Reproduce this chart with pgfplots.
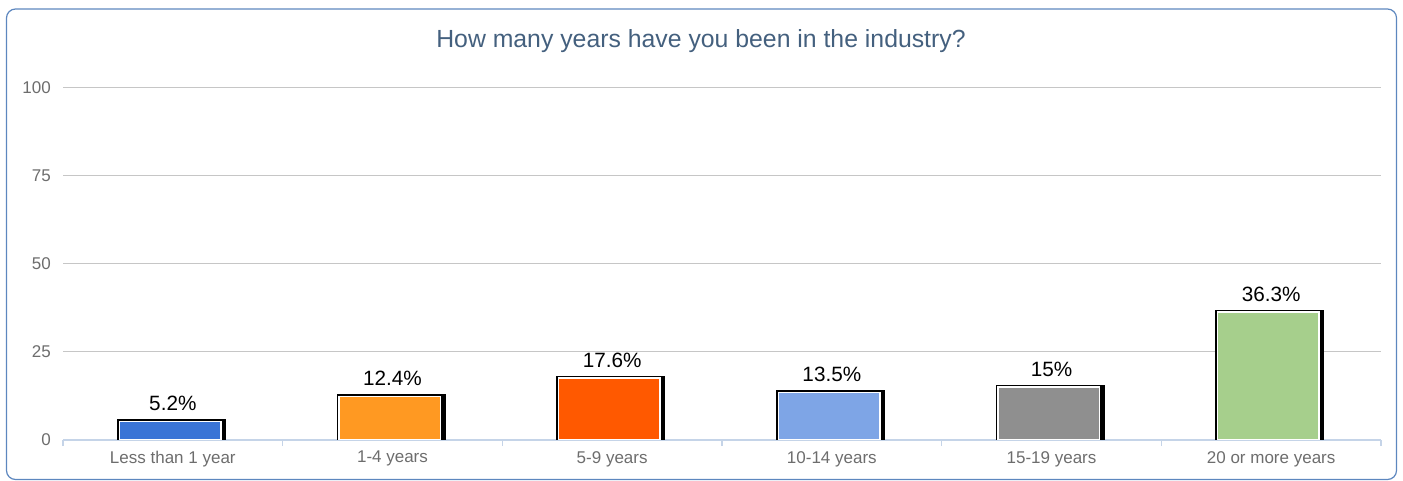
\documentclass[border=0pt]{standalone}
\usepackage{fontspec}
\setmainfont{Liberation Sans}
\usepackage{pgfplots}
\pgfplotsset{compat=1.18}

\definecolor{cA}{HTML}{3A74D6}
\definecolor{cB}{HTML}{FF9922}
\definecolor{cC}{HTML}{FF5900}
\definecolor{cD}{HTML}{7EA5E6}
\definecolor{cE}{HTML}{8F8F8F}
\definecolor{cF}{HTML}{A6CF8C}
\definecolor{titlecol}{HTML}{44607E}
\definecolor{labelcol}{HTML}{6D6D6D}
\definecolor{axiscol}{HTML}{C5D4E8}
\definecolor{gridcol}{HTML}{C6C6C6}
\definecolor{framecol}{HTML}{5D87BF}

\newcommand\fs[1]{\fontsize{#1}{#1}\selectfont}

\begin{document}
\begin{tikzpicture}
\path[use as bounding box] (0,0) rectangle (1403bp,481bp);
\draw[framecol, line width=1.2bp, rounded corners=9bp] (6.5bp,1.5bp) rectangle (1396.5bp,472bp);
\node[anchor=base, text=titlecol, font=\fs{24.8bp}] at (701bp,433bp) {How many years have you been in the industry?};

\begin{axis}[
  at={(63bp,41bp)}, anchor=south west,
  scale only axis, width=1318bp, height=352bp,
  xmin=-0.5, xmax=5.5, ymin=0, ymax=100,
  axis x line*=bottom, axis y line*=left,
  x axis line style={draw=axiscol, line width=1.5bp},
  y axis line style={draw=none},
  xtick={0,...,5},
  xticklabels={Less than 1 year,1-4 years,5-9 years,10-14 years,15-19 years,20 or more years},
  minor xtick={-0.5,0.5,1.5,2.5,3.5,4.5,5.5},
  ytick={0,25,50,75,100},
  major tick length=0pt, minor tick length=6bp, tick align=outside,
  minor tick style={draw=axiscol, line width=1.5bp},
  ymajorgrids, grid style={draw=gridcol, line width=1bp},
  /pgf/number format/assume math mode=true,
  xticklabel style={font=\fs{17bp}, text=labelcol, inner sep=0pt, yshift=-11bp},
  yticklabel style={font=\fs{17bp}, text=labelcol, inner sep=0pt, xshift=-12bp},
  nodes near coords={\pgfmathprintnumber{\pgfplotspointmeta}\%},
  every node near coord/.style={font=\fs{20.7bp}, text=black, anchor=south, inner sep=0pt, yshift=10bp},
  barstyle/.style={ybar, bar width=101.5bp, bar shift=-2.7bp, draw=white, line width=1.5bp,
    preaction={fill=black, draw=black, line width=4.5bp, transform canvas={xshift=3bp}},
    preaction={draw=black, line width=4.5bp}},
]
\addplot[barstyle, fill=cA] coordinates {(0,5.2)};
\addplot[barstyle, fill=cB] coordinates {(1,12.4)};
\addplot[barstyle, fill=cC] coordinates {(2,17.6)};
\addplot[barstyle, fill=cD] coordinates {(3,13.5)};
\addplot[barstyle, fill=cE] coordinates {(4,15)};
\addplot[barstyle, fill=cF] coordinates {(5,36.3)};
\end{axis}
\end{tikzpicture}
\end{document}
